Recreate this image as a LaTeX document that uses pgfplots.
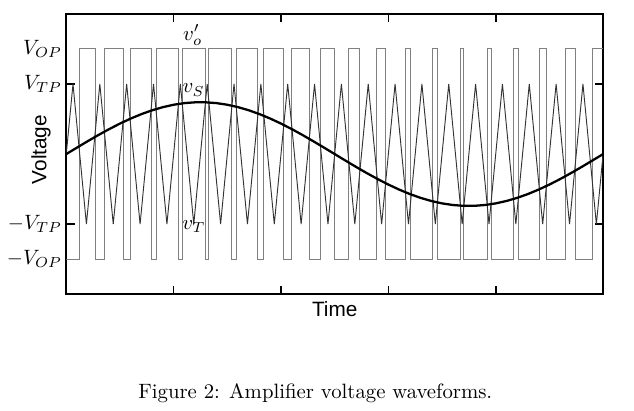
\documentclass[border=0pt]{standalone}
\usepackage{pgfplots}
\pgfplotsset{compat=1.18}
\usepackage{pgfplotstable}
\usepackage{fontspec}
\newfontfamily\helv{Liberation Sans}

% triangle carrier v_T (20 periods)
\pgfplotstableread{
t v
0 0
0.0125 1
0.0375 -1
0.0625 1
0.0875 -1
0.1125 1
0.1375 -1
0.1625 1
0.1875 -1
0.2125 1
0.2375 -1
0.2625 1
0.2875 -1
0.3125 1
0.3375 -1
0.3625 1
0.3875 -1
0.4125 1
0.4375 -1
0.4625 1
0.4875 -1
0.5125 1
0.5375 -1
0.5625 1
0.5875 -1
0.6125 1
0.6375 -1
0.6625 1
0.6875 -1
0.7125 1
0.7375 -1
0.7625 1
0.7875 -1
0.8125 1
0.8375 -1
0.8625 1
0.8875 -1
0.9125 1
0.9375 -1
0.9625 1
0.9875 -1
1 0
}\tridata

% signal v_S
\pgfplotstableread{
t v
0 0
0.02 0.0927
0.04 0.1840
0.06 0.2724
0.08 0.3565
0.10 0.4350
0.12 0.5065
0.14 0.5702
0.16 0.6248
0.18 0.6696
0.20 0.7038
0.22 0.7269
0.24 0.7385
0.26 0.7385
0.28 0.7269
0.30 0.7038
0.32 0.6696
0.34 0.6248
0.36 0.5702
0.38 0.5065
0.40 0.4350
0.42 0.3565
0.44 0.2724
0.46 0.1840
0.48 0.0927
0.50 0
0.52 -0.0927
0.54 -0.1840
0.56 -0.2724
0.58 -0.3565
0.60 -0.4350
0.62 -0.5065
0.64 -0.5702
0.66 -0.6248
0.68 -0.6696
0.70 -0.7038
0.72 -0.7269
0.74 -0.7385
0.76 -0.7385
0.78 -0.7269
0.80 -0.7038
0.82 -0.6696
0.84 -0.6248
0.86 -0.5702
0.88 -0.5065
0.90 -0.4350
0.92 -0.3565
0.94 -0.2724
0.96 -0.1840
0.98 -0.0927
1.00 0
}\sindata

% output v_o' (level held from t to next t)
\pgfplotstableread{
t v
0 -1.5
0.0243 1.5
0.0535 -1.5
0.0715 1.5
0.1060 -1.5
0.1190 1.5
0.1579 -1.5
0.1671 1.5
0.2090 -1.5
0.2160 1.5
0.2592 -1.5
0.2658 1.5
0.3086 -1.5
0.3165 1.5
0.3570 -1.5
0.3680 1.5
0.4048 -1.5
0.4202 1.5
0.4522 -1.5
0.4728 1.5
0.4993 -1.5
0.5257 1.5
0.5465 -1.5
0.5785 1.5
0.5940 -1.5
0.6310 1.5
0.6421 -1.5
0.6829 1.5
0.6910 -1.5
0.7340 1.5
0.7408 -1.5
0.7842 1.5
0.7915 -1.5
0.8336 1.5
0.8430 -1.5
0.8820 1.5
0.8952 -1.5
0.9298 1.5
0.9478 -1.5
0.9797 1.5
1 1.5
}\outdata

\begin{document}
\begin{tikzpicture}
\begin{axis}[
  at={(0,0)}, anchor=south west,
  width=258.7pt, height=135.1pt,
  scale only axis,
  xmin=0, xmax=1, ymin=-2, ymax=2,
  xtick={0.2,0.4,0.6,0.8}, xticklabels={},
  ytick={-1,1}, yticklabels={$-V_{TP}$,$V_{TP}$},
  extra y ticks={-1.5,1.5},
  extra y tick labels={$-V_{OP}$,$V_{OP}$},
  extra y tick style={major tick length=0pt},
  tick align=inside,
  major tick length=4pt,
  axis line style={line width=0.8pt},
  tick style={line width=0.8pt, black},
  yticklabel style={font=\normalsize, xshift=1.5pt},
  xlabel={\helv Time},
  ylabel={\helv Voltage},
  xlabel style={at={(axis description cs:0.5,-0.053)}, anchor=center},
  ylabel style={at={(axis description cs:-0.047,0.516)}, anchor=center, rotate=0},
  clip=true,
]
\addplot[const plot, black!50, line width=0.45pt] table[x=t, y=v] {\outdata};
\addplot[black!80, line width=0.45pt] table[x=t, y=v] {\tridata};
\addplot[black, line width=1.1pt] table[x=t, y=v] {\sindata};
\node at (axis cs:0.2355,1.70) {$v_o'$};
\node at (axis cs:0.2374,0.914) {$v_S$};
\node at (axis cs:0.2379,-1.04) {$v_T$};
\end{axis}
\node at (120pt,-47.5pt) {Figure 2: Amplifier voltage waveforms.};
\path (-31.25pt,-55.8pt) rectangle (273.6pt,141.8pt);
\end{tikzpicture}
\end{document}
